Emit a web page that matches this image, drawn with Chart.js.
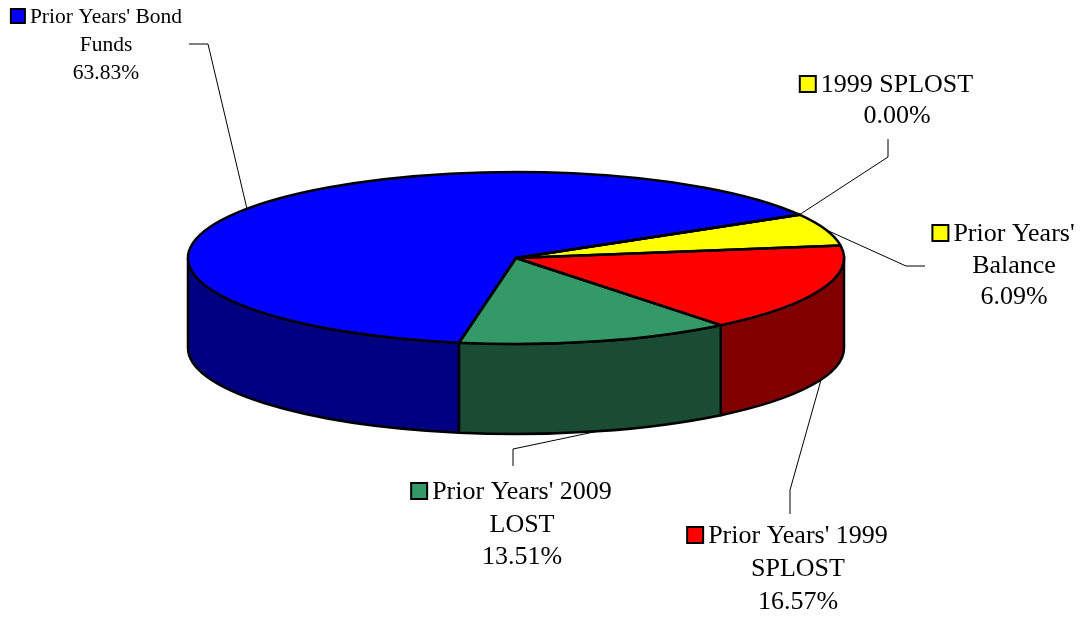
<!DOCTYPE html>
<html>
<head>
<meta charset="utf-8">
<script src="https://cdn.jsdelivr.net/npm/chart.js@4.4.0/dist/chart.umd.min.js"></script>
<style>
  html, body { margin: 0; padding: 0; background: #fff; overflow: hidden; }
  #wrap { width: 1082px; height: 617px; }
</style>
</head>
<body>
<div id="wrap"><canvas id="pie" width="1082" height="617"></canvas></div>
<script>
// slice names (already split into the lines shown on the chart)
const categories = [
  ["Prior Years' Bond", "Funds"],
  ["1999 SPLOST"],
  ["Prior Years'", "Balance"],
  ["Prior Years' 1999", "SPLOST"],
  ["Prior Years' 2009", "LOST"]
];
const shares = [63.83, 0.00, 6.09, 16.57, 13.51];

const topColors = ["#0000FF", "#FFFF00", "#FFFF00", "#FF0000", "#339966"];
const sideColors = ["#000080", "#808000", "#808000", "#800000", "#1A4C33"];

// where each label sits and how its leader line bends
const labelSpots = [
  { x: 106, y: 23, size: 21.5, lh: 28, elbow: [208, 44], end: [189, 44] },
  { x: 897, y: 92, size: 26, lh: 31, elbow: [888, 157], end: [888, 139] },
  { x: 1014, y: 241, size: 26, lh: 31.5, elbow: [906, 266], end: [925, 266] },
  { x: 798, y: 543, size: 26, lh: 33, elbow: [790, 490], end: [790, 514] },
  { x: 522, y: 499, size: 26, lh: 32.5, elbow: [513, 449], end: [513, 466] }
];

const TILT = 86 / 328;   // flattening of the top face
const DEPTH = 90;        // height of the side wall
const EDGE = 2.5;

function arcGeom(arc) {
  const p = arc.getProps(['x', 'y', 'startAngle', 'endAngle', 'outerRadius'], true);
  p.ry = p.outerRadius * TILT;
  return p;
}

const pie3d = {
  id: 'pie3d',
  beforeDatasetsDraw(chart) {
    const ctx = chart.ctx;
    const arcs = chart.getDatasetMeta(0).data;

    // side walls: only the front half (0..PI) is visible
    ctx.save();
    ctx.lineWidth = EDGE;
    ctx.strokeStyle = '#000';
    ctx.lineJoin = 'round';
    arcs.forEach(function (arc, i) {
      const g = arcGeom(arc);
      for (let k = -1; k <= 2; k++) {
        const lo = Math.max(g.startAngle, k * 2 * Math.PI);
        const hi = Math.min(g.endAngle, k * 2 * Math.PI + Math.PI);
        if (hi - lo < 1e-6) continue;
        ctx.beginPath();
        ctx.ellipse(g.x, g.y, g.outerRadius, g.ry, 0, lo, hi);
        ctx.ellipse(g.x, g.y + DEPTH, g.outerRadius, g.ry, 0, hi, lo, true);
        ctx.closePath();
        ctx.fillStyle = sideColors[i];
        ctx.fill();
        ctx.stroke();
      }
    });
    ctx.restore();

    // squash the pie itself into the top face
    const cy = arcs[0].y;
    ctx.save();
    ctx.translate(0, cy);
    ctx.scale(1, TILT);
    ctx.translate(0, -cy);
  },
  afterDatasetsDraw(chart) {
    const ctx = chart.ctx;
    ctx.restore();

    const arcs = chart.getDatasetMeta(0).data;
    ctx.save();
    ctx.lineWidth = EDGE;
    ctx.strokeStyle = '#000';
    ctx.lineJoin = 'round';
    arcs.forEach(function (arc) {
      const g = arcGeom(arc);
      ctx.beginPath();
      ctx.moveTo(g.x, g.y);
      ctx.ellipse(g.x, g.y, g.outerRadius, g.ry, 0, g.startAngle, g.endAngle);
      ctx.closePath();
      ctx.stroke();
    });
    ctx.restore();
  },
  afterDraw(chart) {
    const ctx = chart.ctx;
    const arcs = chart.getDatasetMeta(0).data;
    const total = shares.reduce(function (a, b) { return a + b; }, 0);

    ctx.save();
    arcs.forEach(function (arc, i) {
      const g = arcGeom(arc);
      const spot = labelSpots[i];
      const mid = (g.startAngle + g.endAngle) / 2;
      const ax = g.x + g.outerRadius * Math.cos(mid);
      const ay = g.y + g.ry * Math.sin(mid) + (Math.sin(mid) > 0 ? DEPTH : 0);

      // leader line
      ctx.lineWidth = 1;
      ctx.strokeStyle = '#000';
      ctx.beginPath();
      ctx.moveTo(ax, ay);
      ctx.lineTo(spot.elbow[0], spot.elbow[1]);
      ctx.lineTo(spot.end[0], spot.end[1]);
      ctx.stroke();

      // text
      const lines = categories[i].concat([(shares[i] / total * 100).toFixed(2) + '%']);
      ctx.font = spot.size + 'px "Liberation Serif", "Times New Roman", serif';
      ctx.fillStyle = '#000';
      ctx.textAlign = 'center';
      ctx.textBaseline = 'alphabetic';
      lines.forEach(function (t, j) {
        ctx.fillText(t, spot.x, spot.y + j * spot.lh);
      });

      // legend key in front of the first line
      const w = ctx.measureText(lines[0]).width;
      const sq = Math.round(spot.size * 0.63);
      const sx = spot.x - w / 2 - 5 - sq;
      const sy = spot.y - sq;
      ctx.fillStyle = topColors[i];
      ctx.fillRect(sx, sy, sq, sq);
      ctx.lineWidth = 2;
      ctx.strokeRect(sx, sy, sq, sq);
    });
    ctx.restore();
  }
};

new Chart(document.getElementById('pie'), {
  type: 'pie',
  data: {
    labels: categories,
    datasets: [{
      data: shares,
      backgroundColor: topColors,
      borderWidth: 0,
      clip: false
    }]
  },
  options: {
    responsive: false,
    devicePixelRatio: 1,
    animation: false,
    events: [],
    rotation: 190,
    radius: 328,
    layout: { padding: { left: 0, right: 50, top: 0, bottom: 101 } },
    plugins: {
      legend: { display: false },
      tooltip: { enabled: false }
    }
  },
  plugins: [pie3d]
});
</script>
</body>
</html>
